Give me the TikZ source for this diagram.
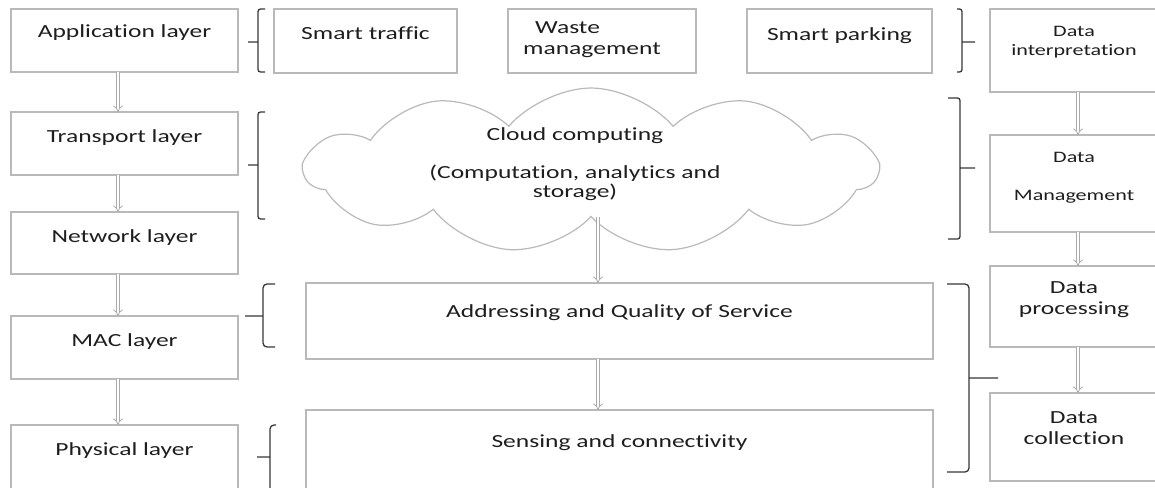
\documentclass[tikz,border=0pt]{standalone}
\usepackage{fontspec}
\setmainfont{Carlito}[FakeStretch=1.38, Ligatures=CommonOff]
\usetikzlibrary{arrows.meta, shapes.symbols, positioning}
\definecolor{boxgray}{RGB}{185,185,185}
\definecolor{brkgray}{RGB}{55,55,55}
\definecolor{flowgray}{RGB}{170,170,170}
\definecolor{txtcol}{RGB}{30,30,30}
\newcommand{\boxfont}{\fontsize{18.5pt}{21pt}\selectfont}
\newcommand{\smallboxfont}{\fontsize{16pt}{19pt}\selectfont}
\newcommand{\cloudfont}{\fontsize{18.5pt}{19pt}\selectfont}

\begin{document}
\begin{tikzpicture}[x=1pt, y=-1pt,
        box/.style={draw=boxgray, line width=1.2pt, inner sep=0pt, outer sep=0pt},
        txt/.style={anchor=north, inner sep=0pt, align=center, font=\boxfont, text=txtcol, yshift=-17pt},
        flow/.style={draw=flowgray, double=white, double distance=2.6pt, line width=0.8pt, -{Implies}},
        brk/.style={draw=brkgray, line width=1.3pt, rounded corners=2.5pt},
        ]
        \useasboundingbox (0,0) rectangle (1155,487);

        \node[box, minimum width=227pt, minimum height=63pt, label={[txt, yshift=2pt]north:Application layer}] (app)   at (124.5,40.5) {};
        \node[box, minimum width=227pt, minimum height=63pt, label={[txt]north:Transport layer}]               (trans) at (124.5,143.5) {};
        \node[box, minimum width=227pt, minimum height=62pt, label={[txt]north:Network layer}]                 (net)   at (124.5,243) {};
        \node[box, minimum width=227pt, minimum height=63pt, label={[txt]north:MAC layer}]                     (mac)   at (124.5,347.5) {};
        \node[box, minimum width=227pt, minimum height=70pt, label={[txt]north:Physical layer}]                (phys)  at (124.5,460) {};

        \node[box, minimum width=183pt, minimum height=64pt, label={[txt, yshift=-1pt]north:Smart traffic}]  (traffic) at (365.5,41) {};
        \node[box, minimum width=188pt, minimum height=64pt, label={[txt, yshift=5pt, align=left, xshift=-10pt]north:\hspace{12pt}Waste\\management}] (waste) at (602,41) {};
        \node[box, minimum width=185pt, minimum height=64pt, label={[txt, yshift=-1pt]north:Smart parking}]  (parking) at (839.5,41) {};

        \node[box, minimum width=168pt, minimum height=83pt, label={[txt, font=\smallboxfont]north:Data\\interpretation}] (interp) at (1074,50.5) {};
        \node[box, minimum width=168pt, minimum height=97pt, label={[txt, font=\smallboxfont]north:Data\\[19pt]Management}] (mgmt) at (1074,183.5) {};
        \node[box, minimum width=168pt, minimum height=81pt, label={[txt, yshift=2pt]north:Data\\processing}]  (proc) at (1074,306.5) {};
        \node[box, minimum width=168pt, minimum height=88pt, label={[txt, yshift=-1pt]north:Data\\collection}] (coll) at (1074,437) {};

        \node[cloud, draw=boxgray, line width=1.2pt, cloud puffs=11, cloud puff arc=100, aspect=3.4,
              minimum width=572pt, minimum height=165pt, inner sep=0pt] (cloud) at (591,170.5) {};
        \node[align=center, font=\cloudfont, text=txtcol, inner sep=0pt] (cctxt) at ([xshift=-16pt, yshift=6pt]cloud.center)
              {Cloud computing\\[19pt](Computation, analytics and\\storage)};

        \node[box, minimum width=627pt, minimum height=76pt, label={[txt, yshift=-4pt]north:Addressing and Quality of Service}] (qos)   at (619.5,321) {};
        \node[box, minimum width=627pt, minimum height=85pt, label={[txt, yshift=-7pt]north:Sensing and connectivity}]         (sense) at (619.5,452.5) {};

        \draw[flow] ([xshift=-6.5pt]app.south)   -- ([xshift=-6.5pt]trans.north);
        \draw[flow] ([xshift=-6.5pt]trans.south) -- ([xshift=-6.5pt]net.north);
        \draw[flow] ([xshift=-6.5pt]net.south)   -- ([xshift=-6.5pt]mac.north);
        \draw[flow] ([xshift=-6.5pt]mac.south)   -- ([xshift=-6.5pt]phys.north);

        \draw[flow] ([xshift=4pt]interp.south) -- ([xshift=4pt]mgmt.north);
        \draw[flow] ([xshift=4pt]mgmt.south)   -- ([xshift=4pt]proc.north);
        \draw[flow] ([xshift=4pt]proc.south)   -- ([xshift=4pt]coll.north);

        \draw[flow] ([xshift=7pt]cloud.south) -- ([xshift=7pt]cloud.south |- qos.north);
        \draw[flow] ([xshift=-21.5pt]qos.south) -- ([xshift=-21.5pt]sense.north);

        \draw[brk] (265,9) -- (258,9) -- (258,72) -- (265,72) (258,42) -- (248,42);
        \draw[brk] (265,112) -- (258,112) -- (258,219) -- (265,219) (258,165) -- (248,165);
        \draw[brk, rounded corners=4pt] (275,284) -- (263,284) -- (263,347) -- (275,347) (263,316) -- (245,316);
        \draw[brk, rounded corners=4pt] (276,425) -- (270,425) -- (270,495) (270,457) -- (257,457);

        \draw[brk] (957,9) -- (962,9) -- (962,72) -- (957,72) (962,42) -- (975,42);
        \draw[brk] (948,98) -- (960,98) -- (960,239) -- (948,239) (960,168) -- (975,168);
        \draw[brk, rounded corners=4pt] (947,284) -- (969,284) -- (969,472) -- (947,472) (969,378) -- (998,378);
\end{tikzpicture}
\end{document}
